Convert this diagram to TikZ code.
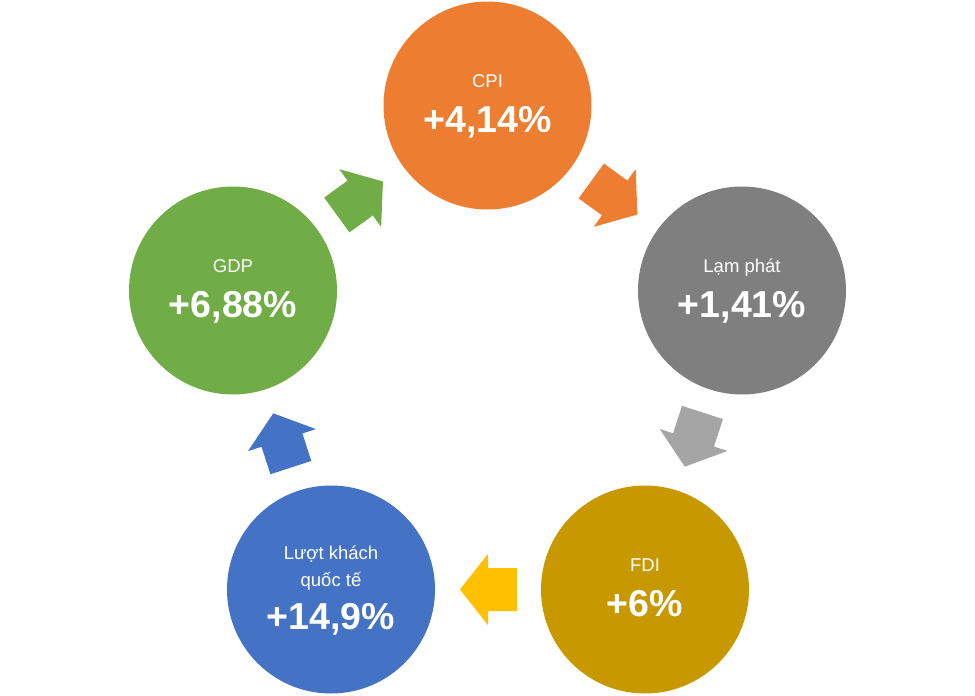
\documentclass[tikz,border=0pt]{standalone}
\usepackage{fontspec}
\setmainfont{Liberation Sans}
\usepackage{tikz}
\usetikzlibrary{calc,shapes.arrows}
\definecolor{cpiorange}{HTML}{ED7D31}
\definecolor{lpgray}{HTML}{7F7F7F}
\definecolor{lparrow}{HTML}{A5A5A5}
\definecolor{fdigold}{HTML}{C89800}
\definecolor{fdiarrow}{HTML}{FFC000}
\definecolor{lkblue}{HTML}{4472C4}
\definecolor{gdpgreen}{HTML}{70AD47}

\begin{document}
\begin{tikzpicture}
	[x=1pt,y=-1pt,every node/.style={inner sep=0pt, text=white}]
	\tikzstyle{disc} = [circle, minimum size=208pt];
	\tikzstyle{small} = [anchor=base, font=\fontsize{18.5}{22}\selectfont];
	\tikzstyle{big} = [anchor=base, font=\fontsize{37.5}{42}\selectfont\bfseries];
	\tikzstyle{arrowbox} = [single arrow, anchor=tip, inner xsep=0pt, inner ysep=21.3pt, minimum height=57pt, single arrow head extend=14.2pt, single arrow tip angle=103.5];

	\useasboundingbox (0,0) rectangle (975,696);

	\node[disc, fill=cpiorange] (cpi) at (487.5,105.5) {};
	\node[disc, fill=lpgray] (lp) at (742,290.5) {};
	\node[disc, fill=fdigold] (fdi) at (645,589.5) {};
	\node[disc, fill=lkblue] (lk) at (331,589.5) {};
	\node[disc, fill=gdpgreen] (gdp) at (233,290.5) {};

	\node[small] (cpi-t) at ($(cpi)+(0,-18)$) {CPI};
	\node[big] (cpi-v) at ($(cpi)+(0,26.5)$) {+4,14\%};
	\node[small] (lp-t) at ($(lp)+(0,-18)$) {Lạm phát};
	\node[big] (lp-v) at ($(lp)+(0,26.5)$) {+1,41\%};
	\node[small] (fdi-t) at ($(fdi)+(0,-18)$) {FDI};
	\node[big] (fdi-v) at ($(fdi)+(0,26.5)$) {+6\%};
	\node[small] (lk-t1) at ($(lk)+(0,-30.5)$) {Lượt khách};
	\node[small] (lk-t2) at ($(lk)+(0,-3.5)$) {quốc tế};
	\node[big] (lk-v) at ($(lk)+(0,39.5)$) {+14,9\%};
	\node[small] (gdp-t) at ($(gdp)+(0,-18)$) {GDP};
	\node[big] (gdp-v) at ($(gdp)+(0,26.5)$) {+6,88\%};

	\coordinate (m1) at ($(gdp)!0.5!(cpi)$);
	\coordinate (m2) at ($(cpi)!0.5!(lp)$);
	\coordinate (m3) at ($(lp)!0.5!(fdi)$);
	\coordinate (m4) at ($(fdi)!0.5!(lk)$);
	\coordinate (m5) at ($(lk)!0.5!(gdp)$);

	\node[arrowbox, fill=gdpgreen, rotate=36] (a1) at ($(m1)!28.3pt!(cpi)$) {};
	\node[arrowbox, fill=cpiorange, rotate=-36] (a2) at ($(m2)!28.3pt!(lp)$) {};
	\node[arrowbox, fill=lparrow, rotate=252] (a3) at ($(m3)!28.3pt!(fdi)$) {};
	\node[arrowbox, fill=fdiarrow, rotate=180] (a4) at ($(m4)!28.3pt!(lk)$) {};
	\node[arrowbox, fill=lkblue, rotate=108] (a5) at ($(m5)!28.3pt!(gdp)$) {};
\end{tikzpicture}
\end{document}
